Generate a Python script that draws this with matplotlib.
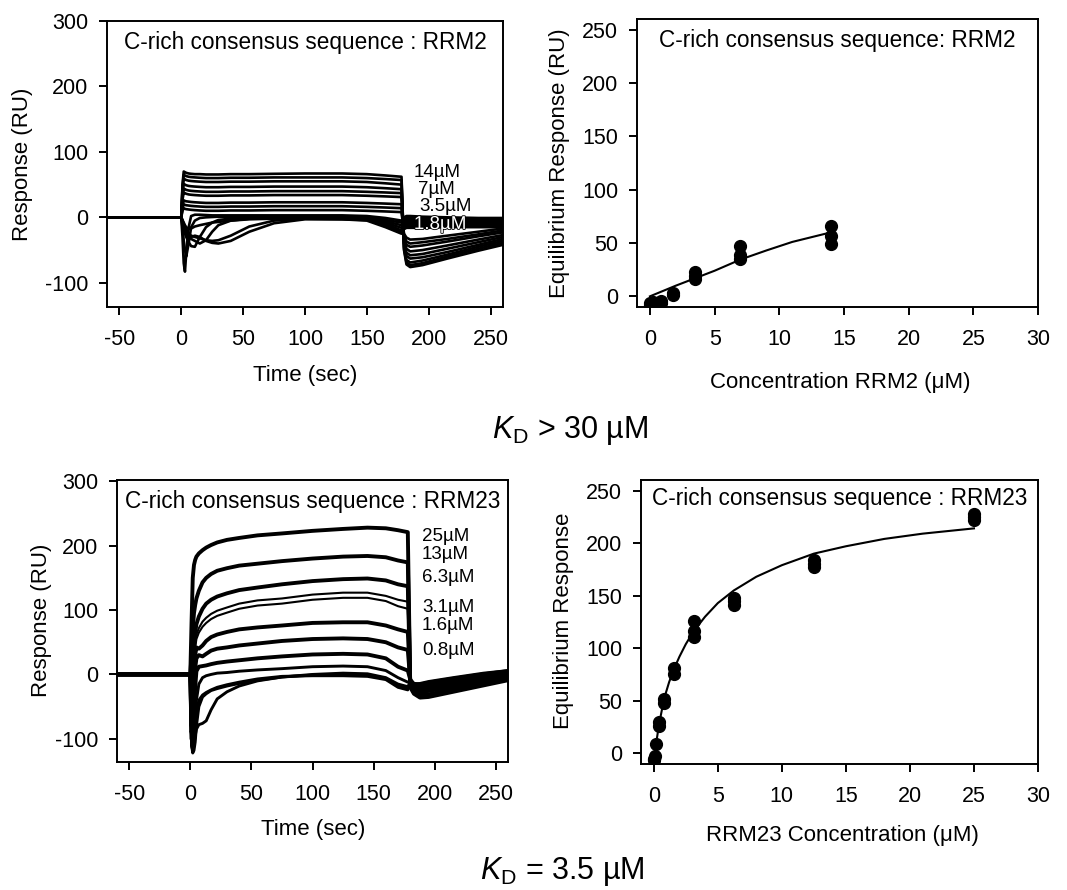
import matplotlib
matplotlib.use('Agg')
import matplotlib.pyplot as plt
import matplotlib.patheffects as pe

plt.rcParams['font.family'] = ['Liberation Sans', 'DejaVu Sans']
plt.rcParams['mathtext.fontset'] = 'custom'
plt.rcParams['mathtext.rm'] = 'Liberation Sans'
plt.rcParams['mathtext.it'] = 'Liberation Sans:italic'
plt.rcParams['axes.unicode_minus'] = False

# ---------------- data: RRM2 sensorgrams ----------------
T2 = [-60, 0, 1, 2, 3, 4, 6, 8, 11, 15, 20, 25, 30, 40, 55, 75, 100, 130, 150, 165, 178,
      180, 182, 185, 195, 215, 240, 260]
rrm2_14uM_a = [0, 0, 50, 70, 69, 68, 67, 66.5, 66, 66, 65.5, 65.5, 65.5, 66, 66, 66.5, 67, 67, 66, 64, 62, -50, -72, -76, -73, -63, -51, -42]
rrm2_14uM_b = [0, 0, 46, 65, 64, 63, 62, 61.5, 61, 60.5, 60, 60, 60, 60.5, 60.5, 61, 61, 61, 60, 58.5, 57, -48, -69, -73, -70, -60, -48, -39]
rrm2_14uM_c = [0, 0, 42, 59, 58, 57, 56, 55.5, 55, 54.5, 54, 54, 54, 54.5, 54.5, 55, 55, 55, 54, 52, 50, -45, -65, -69, -66, -57, -45, -36]
rrm2_7uM_a = [0, 0, 36, 51, 50, 49, 48, 47.5, 47, 46.5, 46, 46, 46, 46.5, 46.5, 47, 47, 47, 46, 44.5, 43, -40, -59, -63, -61, -53, -42, -33]
rrm2_7uM_b = [0, 0, 31, 44, 43, 42, 41, 40.5, 40, 39.5, 39, 39, 39, 39.5, 39.5, 40, 40, 40, 39, 38, 37, -38, -54, -58, -56, -48, -38, -30]
rrm2_7uM_c = [0, 0, 27, 38, 37, 36, 35, 34.5, 34, 33.5, 33, 33, 33, 33.5, 33.5, 34, 34, 34, 33, 32, 31, -35, -48, -52, -50, -43, -34, -27]
rrm2_3uM_a = [0, 0, 18, 26, 25, 24.5, 24, 23.5, 23, 22.5, 22, 22, 22, 22.5, 22.5, 23, 23, 23, 22, 21, 20, -30, -42, -45, -43, -37, -29, -23]
rrm2_3uM_b = [0, 0, 14, 20, 19, 18.5, 18, 17.5, 17, 16.5, 16, 16, 16, 16.5, 16.5, 17, 17, 17, 16, 15, 14, -28, -37, -40, -38, -33, -26, -20]
rrm2_3uM_c = [0, 0, 10, 14, 13, 12.5, 12, 11.5, 11, 10.5, 10, 10, 10, 10.5, 10.5, 11, 11, 11, 10, 9, 8, -25, -31, -34, -33, -28, -22, -17]
rrm2_low_1 = [0, 0, -30, -70, -83, -55, -15, 2, 4, 4, 3.5, 3, 3, 3, 3, 3, 3, 3, 2, -1, -5, 0, 2, 2, 1, 0, -1, -1]
rrm2_low_2 = [0, 0, -15, -35, -50, -60, -40, -15, -5, -1, 0, 0.5, 1, 1, 1, 1, 1, 1, 0, -4, -8, -3, -1, -1, -2, -3, -3, -3]
rrm2_low_3 = [0, 0, -10, -20, -25, -30, -38, -44, -45, -30, -15, -8, -4, -2, -1, 0, 0, 0, -1, -6, -12, -6, -4, -4, -4, -5, -5, -5]
rrm2_low_4 = [0, 0, -8, -15, -20, -25, -30, -33, -36, -40, -35, -22, -12, -5, -2, -1, -1, -1, -2, -8, -16, -9, -7, -7, -7, -7, -7, -7]
rrm2_low_5 = [0, 0, -5, -10, -15, -20, -25, -28, -30, -32, -35, -36, -35, -28, -14, -5, -2, -2, -3, -10, -20, -12, -10, -10, -10, -10, -10, -10]
rrm2_low_6 = [0, 0, -5, -12, -20, -26, -30, -30, -28, -30, -36, -39, -40, -36, -22, -9, -3, -3, -4, -13, -23, -15, -13, -13, -13, -13, -12, -12]
rrm2_low_7 = [0, 0, -4, -8, -12, -15, -18, -17, -14, -12, -10, -8, -7, -5, -3, -2, -2, -3, -5, -15, -25, -18, -16, -16, -16, -15, -15, -15]
rrm2_labels = ['14µM', '7µM', '3.5µM', '1.8µM']
rrm2_label_t = [187.5, 191, 192, 188]
rrm2_label_y = [69, 43, 16, -11]

# ---------------- data: RRM2 equilibrium ----------------
rrm2_conc = [14, 14, 14, 7, 7, 7, 3.5, 3.5, 3.5, 1.75, 1.75, 0.875, 0.875, 0.44, 0.44, 0.22, 0.22, 0, 0]
rrm2_resp = [66, 57, 49, 47, 39, 35, 23, 19, 16, 3, 1, -4, -6, -7, -8, -5, -7, -6, -8]
rrm2_fit_x = [0, 1, 2, 3.5, 5, 7, 9, 11, 14]
rrm2_fit_y = [0, 5, 10, 17, 24, 34.5, 43, 51, 60]

# ---------------- data: RRM23 sensorgrams ----------------
T23 = [-60, 0, 1, 2, 3, 4, 5, 7, 10, 13, 17, 22, 30, 40, 55, 75, 100, 125, 145, 160, 170, 178,
       180, 183, 188, 195, 215, 240, 260]
rrm23_25uM = [0, 0, 80, 150, 170, 178, 183, 188, 193, 197, 201, 205, 209, 212, 216, 219, 223, 226, 228, 227, 224, 221, -20, -30, -36, -35, -27, -17, -9]
rrm23_13uM = [0, 0, 30, 70, 95, 108, 118, 130, 143, 150, 156, 161, 165, 169, 172, 176, 180, 183, 184, 182, 177, 174, -18, -28, -34, -33, -25, -15, -7]
rrm23_6uM = [0, 0, -40, -20, 40, 65, 78, 90, 102, 110, 116, 121, 126, 131, 135, 140, 145, 148, 149, 146, 140, 137, -16, -26, -32, -31, -23, -13, -5]
rrm23_3uM_a = [0, 0, -60, -40, 20, 50, 62, 72, 82, 88, 94, 99, 104, 110, 115, 118, 124, 127, 127, 122, 116, 113, -14, -22, -28, -27, -20, -11, -3]
rrm23_3uM_b = [0, 0, -60, -40, 15, 42, 55, 65, 74, 80, 86, 91, 96, 102, 107, 110, 116, 119, 119, 114, 106, 102, -13, -21, -27, -26, -19, -10, -2]
rrm23_1uM6 = [0, 0, -80, -60, 0, 30, 42, 40, 45, 52, 58, 62, 66, 70, 73, 76, 80, 81, 81, 76, 70, 66, -12, -20, -26, -25, -18, -9, -2]
rrm23_0uM8 = [0, 0, -90, -80, -30, 10, 25, 30, 28, 32, 37, 40, 42, 45, 48, 52, 55, 56, 55, 50, 42, 38, -10, -18, -24, -22, -15, -6, 0]
rrm23_0uM4 = [0, 0, -100, -100, -60, -20, 5, 12, 13, 14, 16, 18, 20, 22, 25, 28, 31, 32, 31, 25, 12, 6, -8, -15, -20, -18, -12, -4, 2]
rrm23_0uM2 = [0, 0, -110, -118, -100, -70, -40, -15, -5, -2, 0, 2, 3, 5, 7, 9, 12, 13, 12, 6, -5, -12, -10, -14, -17, -15, -9, -2, 4]
rrm23_0uM1 = [0, 0, -100, -115, -110, -95, -85, -78, -76, -72, -55, -38, -27, -18, -10, -4, 0, 2, 1, -5, -15, -19, -12, -14, -15, -13, -7, 0, 5]
rrm23_0uM05 = [0, 0, -110, -122, -118, -105, -80, -50, -35, -30, -25, -22, -18, -14, -9, -4, -1, 0, -1, -6, -18, -22, -14, -15, -15, -12, -6, 1, 6]
rrm23_0uM = [0, 0, -100, -120, -110, -90, -60, -40, -32, -28, -24, -20, -16, -12, -7, -3, -2, -2, -3, -8, -20, -24, -15, -15, -14, -11, -5, 2, 6]
rrm23_labels = ['25µM', '13µM', '6.3µM', '3.1µM', '1.6µM', '0.8µM']
rrm23_label_y = [214, 186, 150, 104, 76, 37]

# ---------------- data: RRM23 equilibrium ----------------
rrm23_conc = [25, 25, 25, 12.5, 12.5, 12.5, 6.25, 6.25, 6.25, 3.125, 3.125, 3.125,
              1.5625, 1.5625, 0.78, 0.78, 0.39, 0.39, 0.195, 0.098, 0.049, 0]
rrm23_resp = [222, 225, 228, 177, 180, 184, 141, 145, 148, 111, 116, 126,
              76, 81, 48, 52, 26, 30, 9, -2, -5, -6]
rrm23_fit_x = [0.05, 0.2, 0.4, 0.8, 1.2, 1.6, 2.0, 2.5, 3.1, 4, 5, 6.25, 8, 10, 12.5, 15, 18, 21, 25]
rrm23_fit_y = [-3, 11, 27, 52, 68, 81, 92, 104, 116, 130, 143, 155, 168, 179, 190, 197, 204, 209, 214]

# ---------------- figure ----------------
W, H = 1067, 890
fig = plt.figure(figsize=(W / 100, H / 100), dpi=100)

def px_axes(l, t, r, b):
    return fig.add_axes([l / W, 1 - b / H, (r - l) / W, (b - t) / H])

TICK = 15.5
LAB = 16
ANN = 16.3
CONC = 13.5

def style(ax):
    for s in ax.spines.values():
        s.set_linewidth(1.4)
    ax.tick_params(axis='both', direction='out', length=6, width=1.4, labelsize=TICK,
                   top=False, right=False)
    ax.tick_params(axis='x', pad=9.5)
    ax.tick_params(axis='y', pad=7.5)

def ftext(x, y, s, **kw):
    fig.text(x / W, 1 - y / H, s, **kw)

# Top-left
ax1 = px_axes(107, 21, 503, 307)
style(ax1)
upper2 = [rrm2_14uM_a, rrm2_14uM_b, rrm2_14uM_c, rrm2_7uM_a, rrm2_7uM_b, rrm2_7uM_c,
          rrm2_3uM_a, rrm2_3uM_b, rrm2_3uM_c]
lower2 = [rrm2_low_1, rrm2_low_2, rrm2_low_3, rrm2_low_4, rrm2_low_5, rrm2_low_6, rrm2_low_7]
for c in lower2:
    ax1.plot(T2, c, color='black', lw=1.9, solid_joinstyle='round')
for c in upper2:
    ax1.plot(T2, c, color='black', lw=1.9, solid_joinstyle='round')
ax1.set_xlim(-60, 260)
ax1.set_ylim(-137, 300)
ax1.set_xticks([-50, 0, 50, 100, 150, 200, 250])
ax1.set_yticks([-100, 0, 100, 200, 300])
ax1.text(0.5, 0.925, 'C-rich consensus sequence : RRM2', transform=ax1.transAxes,
         ha='center', va='center', fontsize=ANN)
for lab, tt, yy in zip(rrm2_labels, rrm2_label_t, rrm2_label_y):
    if lab == '1.8µM':
        ax1.text(tt, yy, lab, fontsize=CONC, ha='left', va='center', color='white',
                 path_effects=[pe.withStroke(linewidth=1.2, foreground='black')])
    else:
        ax1.text(tt, yy, lab, fontsize=CONC, ha='left', va='center', color='black')
ftext(23, 164, 'Response (RU)', rotation=90, ha='center', va='center', fontsize=LAB)
ftext(305, 375, 'Time (sec)', ha='center', va='center', fontsize=LAB)

# Top-right
ax2 = px_axes(637, 19, 1038, 307)
style(ax2)
ax2.plot(rrm2_fit_x, rrm2_fit_y, color='black', lw=1.5)
ax2.plot(rrm2_conc, rrm2_resp, 'o', color='black', ms=8.5)
ax2.set_xlim(-1, 30)
ax2.set_ylim(-10, 260)
ax2.set_xticks([0, 5, 10, 15, 20, 25, 30])
ax2.set_yticks([0, 50, 100, 150, 200, 250])
ax2.text(0.5, 0.925, 'C-rich consensus sequence: RRM2', transform=ax2.transAxes,
         ha='center', va='center', fontsize=ANN)
ftext(559, 163, 'Equilibrium Response (RU)', rotation=90, ha='center', va='center', fontsize=LAB)
ftext(840, 383, 'Concentration RRM2 (\u03bcM)', ha='center', va='center', fontsize=LAB)

# Bottom-left
ax3 = px_axes(117, 480, 508, 762)
style(ax3)
thick = [rrm23_25uM, rrm23_13uM, rrm23_6uM, rrm23_1uM6, rrm23_0uM8, rrm23_0uM4]
thin = [rrm23_3uM_a, rrm23_3uM_b]
low = [rrm23_0uM2, rrm23_0uM1, rrm23_0uM05, rrm23_0uM]
for c in low:
    ax3.plot(T23, c, color='black', lw=2.1, solid_joinstyle='round')
for c in thin:
    ax3.plot(T23, c, color='black', lw=1.5, solid_joinstyle='round')
for c in thick:
    ax3.plot(T23, c, color='black', lw=2.8, solid_joinstyle='round')
ax3.set_xlim(-60, 260)
ax3.set_ylim(-136, 302)
ax3.set_xticks([-50, 0, 50, 100, 150, 200, 250])
ax3.set_yticks([-100, 0, 100, 200, 300])
ax3.text(0.5, 0.925, 'C-rich consensus sequence : RRM23', transform=ax3.transAxes,
         ha='center', va='center', fontsize=ANN)
for lab, yy in zip(rrm23_labels, rrm23_label_y):
    ax3.text(189.5, yy, lab, fontsize=CONC, ha='left', va='center', color='black')
ftext(42, 620, 'Response (RU)', rotation=90, ha='center', va='center', fontsize=LAB)
ftext(313, 830, 'Time (sec)', ha='center', va='center', fontsize=LAB)

# Bottom-right
ax4 = px_axes(641, 480, 1038, 764)
style(ax4)
ax4.plot(rrm23_fit_x, rrm23_fit_y, color='black', lw=1.5)
ax4.plot(rrm23_conc, rrm23_resp, 'o', color='black', ms=8.5)
ax4.set_xlim(-1, 30)
ax4.set_ylim(-10, 260)
ax4.set_xticks([0, 5, 10, 15, 20, 25, 30])
ax4.set_yticks([0, 50, 100, 150, 200, 250])
ax4.text(0.5, 0.935, 'C-rich consensus sequence : RRM23', transform=ax4.transAxes,
         ha='center', va='center', fontsize=ANN)
ftext(563, 621, 'Equilibrium Response', rotation=90, ha='center', va='center', fontsize=LAB)
ftext(842, 835, 'RRM23 Concentration (\u03bcM)', ha='center', va='center', fontsize=LAB)

# Titles
ftext(570, 438, r'$K_{\mathrm{D}}$ > 30 µM', ha='center', va='baseline', fontsize=22)
ftext(562, 879, r'$K_{\mathrm{D}}$ = 3.5 µM', ha='center', va='baseline', fontsize=22)

fig.savefig('out.png', dpi=100)
